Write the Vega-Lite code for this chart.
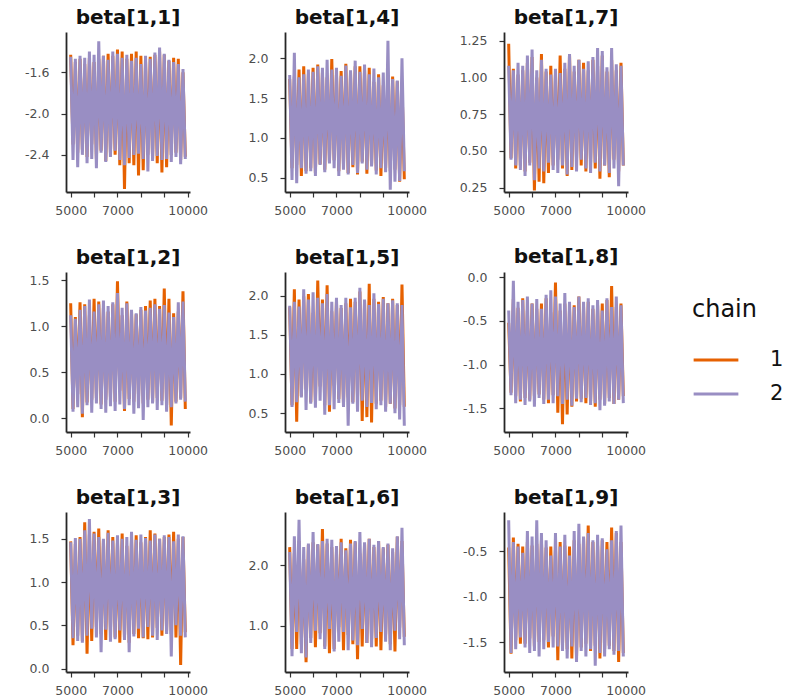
{
"$schema": "https://vega.github.io/schema/vega-lite/v6.json",
"background": "white",
"padding": {"left": 24, "top": 8, "right": 5, "bottom": 5},
"datasets": {
"b11": [
{"c":1,"x":5000,"y":-1.43},{"c":1,"x":5100,"y":-2.30},{"c":1,"x":5200,"y":-1.50},{"c":1,"x":5300,"y":-2.38},{"c":1,"x":5400,"y":-1.47},{"c":1,"x":5500,"y":-2.35},{"c":1,"x":5600,"y":-1.52},{"c":1,"x":5700,"y":-2.42},{"c":1,"x":5800,"y":-1.46},{"c":1,"x":5900,"y":-2.30},
{"c":1,"x":6000,"y":-1.50},{"c":1,"x":6100,"y":-2.44},{"c":1,"x":6200,"y":-1.47},{"c":1,"x":6300,"y":-2.36},{"c":1,"x":6400,"y":-1.44},{"c":1,"x":6500,"y":-2.46},{"c":1,"x":6600,"y":-1.42},{"c":1,"x":6700,"y":-2.38},{"c":1,"x":6800,"y":-1.44},{"c":1,"x":6900,"y":-2.40},
{"c":1,"x":7000,"y":-1.38},{"c":1,"x":7100,"y":-2.50},{"c":1,"x":7200,"y":-1.40},{"c":1,"x":7300,"y":-2.73},{"c":1,"x":7400,"y":-1.47},{"c":1,"x":7500,"y":-2.48},{"c":1,"x":7600,"y":-1.42},{"c":1,"x":7700,"y":-2.50},{"c":1,"x":7800,"y":-1.40},{"c":1,"x":7900,"y":-2.60},
{"c":1,"x":8000,"y":-1.44},{"c":1,"x":8100,"y":-2.55},{"c":1,"x":8200,"y":-1.50},{"c":1,"x":8300,"y":-2.40},{"c":1,"x":8400,"y":-1.45},{"c":1,"x":8500,"y":-2.44},{"c":1,"x":8600,"y":-1.43},{"c":1,"x":8700,"y":-2.48},{"c":1,"x":8800,"y":-1.40},{"c":1,"x":8900,"y":-2.57},
{"c":1,"x":9000,"y":-1.43},{"c":1,"x":9100,"y":-2.52},{"c":1,"x":9200,"y":-1.49},{"c":1,"x":9300,"y":-2.40},{"c":1,"x":9400,"y":-1.46},{"c":1,"x":9500,"y":-2.38},{"c":1,"x":9600,"y":-1.47},{"c":1,"x":9700,"y":-2.45},{"c":1,"x":9800,"y":-1.60},{"c":1,"x":9900,"y":-2.42},
{"c":2,"x":5000,"y":-1.45},{"c":2,"x":5100,"y":-2.45},{"c":2,"x":5200,"y":-1.47},{"c":2,"x":5300,"y":-2.52},{"c":2,"x":5400,"y":-1.44},{"c":2,"x":5500,"y":-2.40},{"c":2,"x":5600,"y":-1.46},{"c":2,"x":5700,"y":-2.48},{"c":2,"x":5800,"y":-1.40},{"c":2,"x":5900,"y":-2.44},
{"c":2,"x":6000,"y":-1.43},{"c":2,"x":6100,"y":-2.53},{"c":2,"x":6200,"y":-1.30},{"c":2,"x":6300,"y":-2.38},{"c":2,"x":6400,"y":-1.44},{"c":2,"x":6500,"y":-2.47},{"c":2,"x":6600,"y":-1.48},{"c":2,"x":6700,"y":-2.42},{"c":2,"x":6800,"y":-1.40},{"c":2,"x":6900,"y":-2.36},
{"c":2,"x":7000,"y":-1.42},{"c":2,"x":7100,"y":-2.45},{"c":2,"x":7200,"y":-1.46},{"c":2,"x":7300,"y":-2.50},{"c":2,"x":7400,"y":-1.43},{"c":2,"x":7500,"y":-2.43},{"c":2,"x":7600,"y":-1.49},{"c":2,"x":7700,"y":-2.40},{"c":2,"x":7800,"y":-1.46},{"c":2,"x":7900,"y":-2.39},
{"c":2,"x":8000,"y":-1.52},{"c":2,"x":8100,"y":-2.44},{"c":2,"x":8200,"y":-1.44},{"c":2,"x":8300,"y":-2.56},{"c":2,"x":8400,"y":-1.47},{"c":2,"x":8500,"y":-2.46},{"c":2,"x":8600,"y":-1.41},{"c":2,"x":8700,"y":-2.41},{"c":2,"x":8800,"y":-1.36},{"c":2,"x":8900,"y":-2.45},
{"c":2,"x":9000,"y":-1.42},{"c":2,"x":9100,"y":-2.44},{"c":2,"x":9200,"y":-1.48},{"c":2,"x":9300,"y":-2.47},{"c":2,"x":9400,"y":-1.50},{"c":2,"x":9500,"y":-2.42},{"c":2,"x":9600,"y":-1.52},{"c":2,"x":9700,"y":-2.49},{"c":2,"x":9800,"y":-1.57},{"c":2,"x":9900,"y":-2.44}
],
"b14": [
{"c":1,"x":5000,"y":1.74},{"c":1,"x":5100,"y":0.62},{"c":1,"x":5200,"y":1.77},{"c":1,"x":5300,"y":0.66},{"c":1,"x":5400,"y":1.86},{"c":1,"x":5500,"y":0.52},{"c":1,"x":5600,"y":1.90},{"c":1,"x":5700,"y":0.58},{"c":1,"x":5800,"y":1.80},{"c":1,"x":5900,"y":0.62},
{"c":1,"x":6000,"y":1.88},{"c":1,"x":6100,"y":0.56},{"c":1,"x":6200,"y":1.92},{"c":1,"x":6300,"y":0.67},{"c":1,"x":6400,"y":1.82},{"c":1,"x":6500,"y":0.60},{"c":1,"x":6600,"y":1.76},{"c":1,"x":6700,"y":0.70},{"c":1,"x":6800,"y":1.99},{"c":1,"x":6900,"y":0.72},
{"c":1,"x":7000,"y":1.80},{"c":1,"x":7100,"y":0.58},{"c":1,"x":7200,"y":1.84},{"c":1,"x":7300,"y":0.67},{"c":1,"x":7400,"y":1.93},{"c":1,"x":7500,"y":0.56},{"c":1,"x":7600,"y":1.82},{"c":1,"x":7700,"y":0.63},{"c":1,"x":7800,"y":1.90},{"c":1,"x":7900,"y":0.54},
{"c":1,"x":8000,"y":1.90},{"c":1,"x":8100,"y":0.70},{"c":1,"x":8200,"y":1.86},{"c":1,"x":8300,"y":0.55},{"c":1,"x":8400,"y":1.88},{"c":1,"x":8500,"y":0.66},{"c":1,"x":8600,"y":1.70},{"c":1,"x":8700,"y":0.59},{"c":1,"x":8800,"y":1.80},{"c":1,"x":8900,"y":0.52},
{"c":1,"x":9000,"y":1.66},{"c":1,"x":9100,"y":0.62},{"c":1,"x":9200,"y":1.72},{"c":1,"x":9300,"y":0.58},{"c":1,"x":9400,"y":1.77},{"c":1,"x":9500,"y":0.60},{"c":1,"x":9600,"y":1.71},{"c":1,"x":9700,"y":0.45},{"c":1,"x":9800,"y":1.68},{"c":1,"x":9900,"y":0.48},
{"c":2,"x":5000,"y":1.79},{"c":2,"x":5100,"y":0.47},{"c":2,"x":5200,"y":2.07},{"c":2,"x":5300,"y":0.43},{"c":2,"x":5400,"y":1.76},{"c":2,"x":5500,"y":0.62},{"c":2,"x":5600,"y":1.80},{"c":2,"x":5700,"y":0.55},{"c":2,"x":5800,"y":1.86},{"c":2,"x":5900,"y":0.58},
{"c":2,"x":6000,"y":1.83},{"c":2,"x":6100,"y":0.52},{"c":2,"x":6200,"y":1.90},{"c":2,"x":6300,"y":0.66},{"c":2,"x":6400,"y":1.88},{"c":2,"x":6500,"y":0.57},{"c":2,"x":6600,"y":1.98},{"c":2,"x":6700,"y":0.68},{"c":2,"x":6800,"y":1.86},{"c":2,"x":6900,"y":0.62},
{"c":2,"x":7000,"y":1.88},{"c":2,"x":7100,"y":0.52},{"c":2,"x":7200,"y":1.78},{"c":2,"x":7300,"y":0.60},{"c":2,"x":7400,"y":1.91},{"c":2,"x":7500,"y":0.54},{"c":2,"x":7600,"y":1.85},{"c":2,"x":7700,"y":0.66},{"c":2,"x":7800,"y":1.97},{"c":2,"x":7900,"y":0.56},
{"c":2,"x":8000,"y":1.83},{"c":2,"x":8100,"y":0.68},{"c":2,"x":8200,"y":1.92},{"c":2,"x":8300,"y":0.60},{"c":2,"x":8400,"y":1.80},{"c":2,"x":8500,"y":0.64},{"c":2,"x":8600,"y":1.87},{"c":2,"x":8700,"y":0.54},{"c":2,"x":8800,"y":1.76},{"c":2,"x":8900,"y":0.62},
{"c":2,"x":9000,"y":1.82},{"c":2,"x":9100,"y":0.57},{"c":2,"x":9200,"y":2.22},{"c":2,"x":9300,"y":0.35},{"c":2,"x":9400,"y":1.74},{"c":2,"x":9500,"y":0.45},{"c":2,"x":9600,"y":1.72},{"c":2,"x":9700,"y":0.46},{"c":2,"x":9800,"y":2.00},{"c":2,"x":9900,"y":0.58}
],
"b17": [
{"c":1,"x":5000,"y":1.23},{"c":1,"x":5100,"y":0.45},{"c":1,"x":5200,"y":1.06},{"c":1,"x":5300,"y":0.38},{"c":1,"x":5400,"y":1.02},{"c":1,"x":5500,"y":0.40},{"c":1,"x":5600,"y":1.05},{"c":1,"x":5700,"y":0.36},{"c":1,"x":5800,"y":1.10},{"c":1,"x":5900,"y":0.42},
{"c":1,"x":6000,"y":1.14},{"c":1,"x":6100,"y":0.23},{"c":1,"x":6200,"y":1.00},{"c":1,"x":6300,"y":0.29},{"c":1,"x":6400,"y":1.16},{"c":1,"x":6500,"y":0.28},{"c":1,"x":6600,"y":1.04},{"c":1,"x":6700,"y":0.35},{"c":1,"x":6800,"y":1.08},{"c":1,"x":6900,"y":0.40},
{"c":1,"x":7000,"y":1.02},{"c":1,"x":7100,"y":0.44},{"c":1,"x":7200,"y":1.15},{"c":1,"x":7300,"y":0.38},{"c":1,"x":7400,"y":1.06},{"c":1,"x":7500,"y":0.33},{"c":1,"x":7600,"y":1.16},{"c":1,"x":7700,"y":0.37},{"c":1,"x":7800,"y":1.04},{"c":1,"x":7900,"y":0.45},
{"c":1,"x":8000,"y":1.12},{"c":1,"x":8100,"y":0.40},{"c":1,"x":8200,"y":1.10},{"c":1,"x":8300,"y":0.36},{"c":1,"x":8400,"y":1.05},{"c":1,"x":8500,"y":0.42},{"c":1,"x":8600,"y":1.12},{"c":1,"x":8700,"y":0.38},{"c":1,"x":8800,"y":1.08},{"c":1,"x":8900,"y":0.31},
{"c":1,"x":9000,"y":1.15},{"c":1,"x":9100,"y":0.40},{"c":1,"x":9200,"y":1.04},{"c":1,"x":9300,"y":0.32},{"c":1,"x":9400,"y":1.12},{"c":1,"x":9500,"y":0.44},{"c":1,"x":9600,"y":1.05},{"c":1,"x":9700,"y":0.36},{"c":1,"x":9800,"y":1.10},{"c":1,"x":9900,"y":0.40},
{"c":2,"x":5000,"y":1.08},{"c":2,"x":5100,"y":0.44},{"c":2,"x":5200,"y":1.05},{"c":2,"x":5300,"y":0.40},{"c":2,"x":5400,"y":1.10},{"c":2,"x":5500,"y":0.37},{"c":2,"x":5600,"y":1.08},{"c":2,"x":5700,"y":0.33},{"c":2,"x":5800,"y":1.15},{"c":2,"x":5900,"y":0.40},
{"c":2,"x":6000,"y":1.19},{"c":2,"x":6100,"y":0.30},{"c":2,"x":6200,"y":1.05},{"c":2,"x":6300,"y":0.38},{"c":2,"x":6400,"y":1.12},{"c":2,"x":6500,"y":0.36},{"c":2,"x":6600,"y":1.06},{"c":2,"x":6700,"y":0.42},{"c":2,"x":6800,"y":1.02},{"c":2,"x":6900,"y":0.37},
{"c":2,"x":7000,"y":1.06},{"c":2,"x":7100,"y":0.35},{"c":2,"x":7200,"y":1.03},{"c":2,"x":7300,"y":0.40},{"c":2,"x":7400,"y":1.10},{"c":2,"x":7500,"y":0.34},{"c":2,"x":7600,"y":1.16},{"c":2,"x":7700,"y":0.39},{"c":2,"x":7800,"y":1.08},{"c":2,"x":7900,"y":0.36},
{"c":2,"x":8000,"y":1.12},{"c":2,"x":8100,"y":0.44},{"c":2,"x":8200,"y":1.06},{"c":2,"x":8300,"y":0.38},{"c":2,"x":8400,"y":1.11},{"c":2,"x":8500,"y":0.35},{"c":2,"x":8600,"y":1.14},{"c":2,"x":8700,"y":0.42},{"c":2,"x":8800,"y":1.20},{"c":2,"x":8900,"y":0.36},
{"c":2,"x":9000,"y":1.18},{"c":2,"x":9100,"y":0.40},{"c":2,"x":9200,"y":1.07},{"c":2,"x":9300,"y":0.35},{"c":2,"x":9400,"y":1.20},{"c":2,"x":9500,"y":0.38},{"c":2,"x":9600,"y":1.09},{"c":2,"x":9700,"y":0.26},{"c":2,"x":9800,"y":1.08},{"c":2,"x":9900,"y":0.40}
],
"b12": [
{"c":1,"x":5000,"y":1.25},{"c":1,"x":5100,"y":0.10},{"c":1,"x":5200,"y":1.10},{"c":1,"x":5300,"y":0.26},{"c":1,"x":5400,"y":1.26},{"c":1,"x":5500,"y":0.01},{"c":1,"x":5600,"y":1.24},{"c":1,"x":5700,"y":0.17},{"c":1,"x":5800,"y":1.12},{"c":1,"x":5900,"y":0.20},
{"c":1,"x":6000,"y":1.30},{"c":1,"x":6100,"y":0.22},{"c":1,"x":6200,"y":1.27},{"c":1,"x":6300,"y":0.15},{"c":1,"x":6400,"y":1.20},{"c":1,"x":6500,"y":0.20},{"c":1,"x":6600,"y":1.16},{"c":1,"x":6700,"y":0.23},{"c":1,"x":6800,"y":1.24},{"c":1,"x":6900,"y":0.18},
{"c":1,"x":7000,"y":1.49},{"c":1,"x":7100,"y":0.30},{"c":1,"x":7200,"y":1.12},{"c":1,"x":7300,"y":0.08},{"c":1,"x":7400,"y":1.27},{"c":1,"x":7500,"y":0.21},{"c":1,"x":7600,"y":1.16},{"c":1,"x":7700,"y":0.18},{"c":1,"x":7800,"y":1.13},{"c":1,"x":7900,"y":0.24},
{"c":1,"x":8000,"y":1.18},{"c":1,"x":8100,"y":0.16},{"c":1,"x":8200,"y":1.22},{"c":1,"x":8300,"y":0.20},{"c":1,"x":8400,"y":1.28},{"c":1,"x":8500,"y":0.17},{"c":1,"x":8600,"y":1.30},{"c":1,"x":8700,"y":0.22},{"c":1,"x":8800,"y":1.22},{"c":1,"x":8900,"y":0.19},
{"c":1,"x":9000,"y":1.41},{"c":1,"x":9100,"y":0.14},{"c":1,"x":9200,"y":1.30},{"c":1,"x":9300,"y":-0.08},{"c":1,"x":9400,"y":1.14},{"c":1,"x":9500,"y":0.18},{"c":1,"x":9600,"y":1.16},{"c":1,"x":9700,"y":0.22},{"c":1,"x":9800,"y":1.38},{"c":1,"x":9900,"y":0.10},
{"c":2,"x":5000,"y":1.12},{"c":2,"x":5100,"y":0.07},{"c":2,"x":5200,"y":1.08},{"c":2,"x":5300,"y":0.12},{"c":2,"x":5400,"y":1.18},{"c":2,"x":5500,"y":0.05},{"c":2,"x":5600,"y":1.22},{"c":2,"x":5700,"y":0.14},{"c":2,"x":5800,"y":1.29},{"c":2,"x":5900,"y":0.06},
{"c":2,"x":6000,"y":1.16},{"c":2,"x":6100,"y":0.16},{"c":2,"x":6200,"y":1.24},{"c":2,"x":6300,"y":0.10},{"c":2,"x":6400,"y":1.28},{"c":2,"x":6500,"y":0.06},{"c":2,"x":6600,"y":1.22},{"c":2,"x":6700,"y":0.13},{"c":2,"x":6800,"y":1.26},{"c":2,"x":6900,"y":0.08},
{"c":2,"x":7000,"y":1.36},{"c":2,"x":7100,"y":0.15},{"c":2,"x":7200,"y":1.20},{"c":2,"x":7300,"y":0.10},{"c":2,"x":7400,"y":1.25},{"c":2,"x":7500,"y":0.14},{"c":2,"x":7600,"y":1.18},{"c":2,"x":7700,"y":0.05},{"c":2,"x":7800,"y":1.14},{"c":2,"x":7900,"y":0.11},
{"c":2,"x":8000,"y":1.21},{"c":2,"x":8100,"y":-0.02},{"c":2,"x":8200,"y":1.17},{"c":2,"x":8300,"y":0.12},{"c":2,"x":8400,"y":1.20},{"c":2,"x":8500,"y":0.16},{"c":2,"x":8600,"y":1.24},{"c":2,"x":8700,"y":0.09},{"c":2,"x":8800,"y":1.19},{"c":2,"x":8900,"y":0.14},
{"c":2,"x":9000,"y":1.23},{"c":2,"x":9100,"y":0.07},{"c":2,"x":9200,"y":1.15},{"c":2,"x":9300,"y":0.12},{"c":2,"x":9400,"y":1.10},{"c":2,"x":9500,"y":0.16},{"c":2,"x":9600,"y":1.26},{"c":2,"x":9700,"y":0.20},{"c":2,"x":9800,"y":1.27},{"c":2,"x":9900,"y":0.18}
],
"b15": [
{"c":1,"x":5000,"y":1.85},{"c":1,"x":5100,"y":0.60},{"c":1,"x":5200,"y":2.08},{"c":1,"x":5300,"y":0.39},{"c":1,"x":5400,"y":1.95},{"c":1,"x":5500,"y":0.72},{"c":1,"x":5600,"y":1.99},{"c":1,"x":5700,"y":0.80},{"c":1,"x":5800,"y":2.02},{"c":1,"x":5900,"y":0.64},
{"c":1,"x":6000,"y":1.78},{"c":1,"x":6100,"y":0.66},{"c":1,"x":6200,"y":2.19},{"c":1,"x":6300,"y":0.84},{"c":1,"x":6400,"y":1.95},{"c":1,"x":6500,"y":0.60},{"c":1,"x":6600,"y":2.13},{"c":1,"x":6700,"y":0.52},{"c":1,"x":6800,"y":1.80},{"c":1,"x":6900,"y":0.85},
{"c":1,"x":7000,"y":1.92},{"c":1,"x":7100,"y":0.68},{"c":1,"x":7200,"y":1.84},{"c":1,"x":7300,"y":0.62},{"c":1,"x":7400,"y":1.90},{"c":1,"x":7500,"y":0.70},{"c":1,"x":7600,"y":1.96},{"c":1,"x":7700,"y":0.64},{"c":1,"x":7800,"y":1.92},{"c":1,"x":7900,"y":0.72},
{"c":1,"x":8000,"y":2.05},{"c":1,"x":8100,"y":0.40},{"c":1,"x":8200,"y":1.93},{"c":1,"x":8300,"y":0.45},{"c":1,"x":8400,"y":2.15},{"c":1,"x":8500,"y":0.38},{"c":1,"x":8600,"y":1.96},{"c":1,"x":8700,"y":0.62},{"c":1,"x":8800,"y":1.92},{"c":1,"x":8900,"y":0.66},
{"c":1,"x":9000,"y":1.98},{"c":1,"x":9100,"y":0.58},{"c":1,"x":9200,"y":1.90},{"c":1,"x":9300,"y":0.62},{"c":1,"x":9400,"y":1.96},{"c":1,"x":9500,"y":0.56},{"c":1,"x":9600,"y":1.88},{"c":1,"x":9700,"y":0.60},{"c":1,"x":9800,"y":2.14},{"c":1,"x":9900,"y":0.58},
{"c":2,"x":5000,"y":1.87},{"c":2,"x":5100,"y":0.58},{"c":2,"x":5200,"y":1.92},{"c":2,"x":5300,"y":0.64},{"c":2,"x":5400,"y":1.86},{"c":2,"x":5500,"y":0.70},{"c":2,"x":5600,"y":2.08},{"c":2,"x":5700,"y":0.54},{"c":2,"x":5800,"y":1.95},{"c":2,"x":5900,"y":0.62},
{"c":2,"x":6000,"y":2.04},{"c":2,"x":6100,"y":0.57},{"c":2,"x":6200,"y":1.97},{"c":2,"x":6300,"y":0.66},{"c":2,"x":6400,"y":1.90},{"c":2,"x":6500,"y":0.48},{"c":2,"x":6600,"y":2.02},{"c":2,"x":6700,"y":0.60},{"c":2,"x":6800,"y":1.92},{"c":2,"x":6900,"y":0.55},
{"c":2,"x":7000,"y":1.97},{"c":2,"x":7100,"y":0.63},{"c":2,"x":7200,"y":1.88},{"c":2,"x":7300,"y":0.58},{"c":2,"x":7400,"y":1.97},{"c":2,"x":7500,"y":0.34},{"c":2,"x":7600,"y":1.85},{"c":2,"x":7700,"y":0.62},{"c":2,"x":7800,"y":1.97},{"c":2,"x":7900,"y":0.52},
{"c":2,"x":8000,"y":2.10},{"c":2,"x":8100,"y":0.66},{"c":2,"x":8200,"y":1.95},{"c":2,"x":8300,"y":0.58},{"c":2,"x":8400,"y":1.88},{"c":2,"x":8500,"y":0.63},{"c":2,"x":8600,"y":2.03},{"c":2,"x":8700,"y":0.55},{"c":2,"x":8800,"y":1.89},{"c":2,"x":8900,"y":0.60},
{"c":2,"x":9000,"y":1.96},{"c":2,"x":9100,"y":0.52},{"c":2,"x":9200,"y":1.90},{"c":2,"x":9300,"y":0.62},{"c":2,"x":9400,"y":1.94},{"c":2,"x":9500,"y":0.50},{"c":2,"x":9600,"y":1.90},{"c":2,"x":9700,"y":0.42},{"c":2,"x":9800,"y":1.88},{"c":2,"x":9900,"y":0.34}
],
"b18": [
{"c":1,"x":5000,"y":-0.52},{"c":1,"x":5100,"y":-1.32},{"c":1,"x":5200,"y":-0.25},{"c":1,"x":5300,"y":-1.36},{"c":1,"x":5400,"y":-0.35},{"c":1,"x":5500,"y":-1.42},{"c":1,"x":5600,"y":-0.24},{"c":1,"x":5700,"y":-1.38},{"c":1,"x":5800,"y":-0.38},{"c":1,"x":5900,"y":-1.40},
{"c":1,"x":6000,"y":-0.30},{"c":1,"x":6100,"y":-1.36},{"c":1,"x":6200,"y":-0.36},{"c":1,"x":6300,"y":-1.34},{"c":1,"x":6400,"y":-0.30},{"c":1,"x":6500,"y":-1.40},{"c":1,"x":6600,"y":-0.24},{"c":1,"x":6700,"y":-1.44},{"c":1,"x":6800,"y":-0.40},{"c":1,"x":6900,"y":-1.35},
{"c":1,"x":7000,"y":-0.06},{"c":1,"x":7100,"y":-1.55},{"c":1,"x":7200,"y":-0.38},{"c":1,"x":7300,"y":-1.68},{"c":1,"x":7400,"y":-0.30},{"c":1,"x":7500,"y":-1.57},{"c":1,"x":7600,"y":-0.36},{"c":1,"x":7700,"y":-1.48},{"c":1,"x":7800,"y":-0.32},{"c":1,"x":7900,"y":-1.42},
{"c":1,"x":8000,"y":-0.22},{"c":1,"x":8100,"y":-1.39},{"c":1,"x":8200,"y":-0.34},{"c":1,"x":8300,"y":-1.44},{"c":1,"x":8400,"y":-0.28},{"c":1,"x":8500,"y":-1.42},{"c":1,"x":8600,"y":-0.36},{"c":1,"x":8700,"y":-1.48},{"c":1,"x":8800,"y":-0.32},{"c":1,"x":8900,"y":-1.40},
{"c":1,"x":9000,"y":-0.30},{"c":1,"x":9100,"y":-1.45},{"c":1,"x":9200,"y":-0.26},{"c":1,"x":9300,"y":-1.38},{"c":1,"x":9400,"y":-0.10},{"c":1,"x":9500,"y":-1.45},{"c":1,"x":9600,"y":-0.34},{"c":1,"x":9700,"y":-1.40},{"c":1,"x":9800,"y":-0.30},{"c":1,"x":9900,"y":-1.36},
{"c":2,"x":5000,"y":-0.38},{"c":2,"x":5100,"y":-1.35},{"c":2,"x":5200,"y":-0.04},{"c":2,"x":5300,"y":-1.44},{"c":2,"x":5400,"y":-0.28},{"c":2,"x":5500,"y":-1.40},{"c":2,"x":5600,"y":-0.26},{"c":2,"x":5700,"y":-1.46},{"c":2,"x":5800,"y":-0.22},{"c":2,"x":5900,"y":-1.42},
{"c":2,"x":6000,"y":-0.30},{"c":2,"x":6100,"y":-1.48},{"c":2,"x":6200,"y":-0.25},{"c":2,"x":6300,"y":-1.38},{"c":2,"x":6400,"y":-0.36},{"c":2,"x":6500,"y":-1.45},{"c":2,"x":6600,"y":-0.20},{"c":2,"x":6700,"y":-1.40},{"c":2,"x":6800,"y":-0.15},{"c":2,"x":6900,"y":-1.44},
{"c":2,"x":7000,"y":-0.22},{"c":2,"x":7100,"y":-1.36},{"c":2,"x":7200,"y":-0.30},{"c":2,"x":7300,"y":-1.45},{"c":2,"x":7400,"y":-0.18},{"c":2,"x":7500,"y":-1.40},{"c":2,"x":7600,"y":-0.28},{"c":2,"x":7700,"y":-1.47},{"c":2,"x":7800,"y":-0.34},{"c":2,"x":7900,"y":-1.39},
{"c":2,"x":8000,"y":-0.22},{"c":2,"x":8100,"y":-1.43},{"c":2,"x":8200,"y":-0.28},{"c":2,"x":8300,"y":-1.38},{"c":2,"x":8400,"y":-0.24},{"c":2,"x":8500,"y":-1.46},{"c":2,"x":8600,"y":-0.32},{"c":2,"x":8700,"y":-1.44},{"c":2,"x":8800,"y":-0.26},{"c":2,"x":8900,"y":-1.52},
{"c":2,"x":9000,"y":-0.38},{"c":2,"x":9100,"y":-1.47},{"c":2,"x":9200,"y":-0.24},{"c":2,"x":9300,"y":-1.42},{"c":2,"x":9400,"y":-0.34},{"c":2,"x":9500,"y":-1.45},{"c":2,"x":9600,"y":-0.22},{"c":2,"x":9700,"y":-1.40},{"c":2,"x":9800,"y":-0.32},{"c":2,"x":9900,"y":-1.44}
],
"b13": [
{"c":1,"x":5000,"y":1.47},{"c":1,"x":5100,"y":0.27},{"c":1,"x":5200,"y":1.44},{"c":1,"x":5300,"y":0.38},{"c":1,"x":5400,"y":1.52},{"c":1,"x":5500,"y":0.32},{"c":1,"x":5600,"y":1.69},{"c":1,"x":5700,"y":0.17},{"c":1,"x":5800,"y":1.55},{"c":1,"x":5900,"y":0.32},
{"c":1,"x":6000,"y":1.58},{"c":1,"x":6100,"y":0.48},{"c":1,"x":6200,"y":1.62},{"c":1,"x":6300,"y":0.40},{"c":1,"x":6400,"y":1.48},{"c":1,"x":6500,"y":0.33},{"c":1,"x":6600,"y":1.60},{"c":1,"x":6700,"y":0.44},{"c":1,"x":6800,"y":1.52},{"c":1,"x":6900,"y":0.36},
{"c":1,"x":7000,"y":1.46},{"c":1,"x":7100,"y":0.30},{"c":1,"x":7200,"y":1.56},{"c":1,"x":7300,"y":0.36},{"c":1,"x":7400,"y":1.42},{"c":1,"x":7500,"y":0.30},{"c":1,"x":7600,"y":1.50},{"c":1,"x":7700,"y":0.40},{"c":1,"x":7800,"y":1.54},{"c":1,"x":7900,"y":0.35},
{"c":1,"x":8000,"y":1.46},{"c":1,"x":8100,"y":0.35},{"c":1,"x":8200,"y":1.52},{"c":1,"x":8300,"y":0.34},{"c":1,"x":8400,"y":1.60},{"c":1,"x":8500,"y":0.36},{"c":1,"x":8600,"y":1.56},{"c":1,"x":8700,"y":0.47},{"c":1,"x":8800,"y":1.50},{"c":1,"x":8900,"y":0.38},
{"c":1,"x":9000,"y":1.52},{"c":1,"x":9100,"y":0.44},{"c":1,"x":9200,"y":1.55},{"c":1,"x":9300,"y":0.40},{"c":1,"x":9400,"y":1.58},{"c":1,"x":9500,"y":0.36},{"c":1,"x":9600,"y":1.50},{"c":1,"x":9700,"y":0.04},{"c":1,"x":9800,"y":1.52},{"c":1,"x":9900,"y":0.42},
{"c":2,"x":5000,"y":1.46},{"c":2,"x":5100,"y":0.35},{"c":2,"x":5200,"y":1.51},{"c":2,"x":5300,"y":0.32},{"c":2,"x":5400,"y":1.50},{"c":2,"x":5500,"y":0.30},{"c":2,"x":5600,"y":1.60},{"c":2,"x":5700,"y":0.38},{"c":2,"x":5800,"y":1.73},{"c":2,"x":5900,"y":0.46},
{"c":2,"x":6000,"y":1.56},{"c":2,"x":6100,"y":0.36},{"c":2,"x":6200,"y":1.52},{"c":2,"x":6300,"y":0.19},{"c":2,"x":6400,"y":1.50},{"c":2,"x":6500,"y":0.45},{"c":2,"x":6600,"y":1.57},{"c":2,"x":6700,"y":0.31},{"c":2,"x":6800,"y":1.48},{"c":2,"x":6900,"y":0.34},
{"c":2,"x":7000,"y":1.54},{"c":2,"x":7100,"y":0.44},{"c":2,"x":7200,"y":1.50},{"c":2,"x":7300,"y":0.33},{"c":2,"x":7400,"y":1.52},{"c":2,"x":7500,"y":0.19},{"c":2,"x":7600,"y":1.58},{"c":2,"x":7700,"y":0.37},{"c":2,"x":7800,"y":1.49},{"c":2,"x":7900,"y":0.46},
{"c":2,"x":8000,"y":1.55},{"c":2,"x":8100,"y":0.36},{"c":2,"x":8200,"y":1.51},{"c":2,"x":8300,"y":0.48},{"c":2,"x":8400,"y":1.48},{"c":2,"x":8500,"y":0.38},{"c":2,"x":8600,"y":1.55},{"c":2,"x":8700,"y":0.33},{"c":2,"x":8800,"y":1.50},{"c":2,"x":8900,"y":0.44},
{"c":2,"x":9000,"y":1.54},{"c":2,"x":9100,"y":0.40},{"c":2,"x":9200,"y":1.52},{"c":2,"x":9300,"y":0.14},{"c":2,"x":9400,"y":1.47},{"c":2,"x":9500,"y":0.50},{"c":2,"x":9600,"y":1.55},{"c":2,"x":9700,"y":0.38},{"c":2,"x":9800,"y":1.53},{"c":2,"x":9900,"y":0.36}
],
"b16": [
{"c":1,"x":5000,"y":2.30},{"c":1,"x":5100,"y":0.62},{"c":1,"x":5200,"y":2.20},{"c":1,"x":5300,"y":0.62},{"c":1,"x":5400,"y":2.40},{"c":1,"x":5500,"y":0.70},{"c":1,"x":5600,"y":2.10},{"c":1,"x":5700,"y":0.40},{"c":1,"x":5800,"y":2.34},{"c":1,"x":5900,"y":0.80},
{"c":1,"x":6000,"y":2.38},{"c":1,"x":6100,"y":0.65},{"c":1,"x":6200,"y":2.34},{"c":1,"x":6300,"y":0.88},{"c":1,"x":6400,"y":2.60},{"c":1,"x":6500,"y":0.66},{"c":1,"x":6600,"y":2.36},{"c":1,"x":6700,"y":0.55},{"c":1,"x":6800,"y":2.30},{"c":1,"x":6900,"y":0.62},
{"c":1,"x":7000,"y":2.22},{"c":1,"x":7100,"y":0.98},{"c":1,"x":7200,"y":2.44},{"c":1,"x":7300,"y":0.60},{"c":1,"x":7400,"y":2.28},{"c":1,"x":7500,"y":0.85},{"c":1,"x":7600,"y":2.42},{"c":1,"x":7700,"y":0.70},{"c":1,"x":7800,"y":2.38},{"c":1,"x":7900,"y":0.45},
{"c":1,"x":8000,"y":2.20},{"c":1,"x":8100,"y":0.66},{"c":1,"x":8200,"y":2.36},{"c":1,"x":8300,"y":0.72},{"c":1,"x":8400,"y":2.44},{"c":1,"x":8500,"y":0.78},{"c":1,"x":8600,"y":2.30},{"c":1,"x":8700,"y":0.66},{"c":1,"x":8800,"y":2.40},{"c":1,"x":8900,"y":0.60},
{"c":1,"x":9000,"y":2.28},{"c":1,"x":9100,"y":0.86},{"c":1,"x":9200,"y":2.34},{"c":1,"x":9300,"y":0.70},{"c":1,"x":9400,"y":2.22},{"c":1,"x":9500,"y":0.58},{"c":1,"x":9600,"y":2.47},{"c":1,"x":9700,"y":0.97},{"c":1,"x":9800,"y":2.40},{"c":1,"x":9900,"y":0.82},
{"c":2,"x":5000,"y":2.22},{"c":2,"x":5100,"y":0.50},{"c":2,"x":5200,"y":2.48},{"c":2,"x":5300,"y":0.90},{"c":2,"x":5400,"y":2.75},{"c":2,"x":5500,"y":0.55},{"c":2,"x":5600,"y":2.30},{"c":2,"x":5700,"y":0.48},{"c":2,"x":5800,"y":2.36},{"c":2,"x":5900,"y":0.72},
{"c":2,"x":6000,"y":2.55},{"c":2,"x":6100,"y":0.92},{"c":2,"x":6200,"y":2.35},{"c":2,"x":6300,"y":0.78},{"c":2,"x":6400,"y":2.40},{"c":2,"x":6500,"y":0.62},{"c":2,"x":6600,"y":2.44},{"c":2,"x":6700,"y":0.95},{"c":2,"x":6800,"y":2.42},{"c":2,"x":6900,"y":0.58},
{"c":2,"x":7000,"y":2.32},{"c":2,"x":7100,"y":0.74},{"c":2,"x":7200,"y":2.38},{"c":2,"x":7300,"y":0.90},{"c":2,"x":7400,"y":2.25},{"c":2,"x":7500,"y":0.60},{"c":2,"x":7600,"y":2.36},{"c":2,"x":7700,"y":0.76},{"c":2,"x":7800,"y":2.40},{"c":2,"x":7900,"y":0.68},
{"c":2,"x":8000,"y":2.55},{"c":2,"x":8100,"y":0.95},{"c":2,"x":8200,"y":2.38},{"c":2,"x":8300,"y":0.72},{"c":2,"x":8400,"y":2.44},{"c":2,"x":8500,"y":0.65},{"c":2,"x":8600,"y":2.34},{"c":2,"x":8700,"y":0.80},{"c":2,"x":8800,"y":2.40},{"c":2,"x":8900,"y":0.90},
{"c":2,"x":9000,"y":2.30},{"c":2,"x":9100,"y":0.74},{"c":2,"x":9200,"y":2.36},{"c":2,"x":9300,"y":0.60},{"c":2,"x":9400,"y":2.28},{"c":2,"x":9500,"y":0.92},{"c":2,"x":9600,"y":2.48},{"c":2,"x":9700,"y":0.78},{"c":2,"x":9800,"y":2.62},{"c":2,"x":9900,"y":0.68}
],
"b19": [
{"c":1,"x":5000,"y":-0.46},{"c":1,"x":5100,"y":-1.63},{"c":1,"x":5200,"y":-0.35},{"c":1,"x":5300,"y":-1.48},{"c":1,"x":5400,"y":-0.42},{"c":1,"x":5500,"y":-1.52},{"c":1,"x":5600,"y":-0.45},{"c":1,"x":5700,"y":-1.52},{"c":1,"x":5800,"y":-0.40},{"c":1,"x":5900,"y":-1.46},
{"c":1,"x":6000,"y":-0.44},{"c":1,"x":6100,"y":-1.55},{"c":1,"x":6200,"y":-0.42},{"c":1,"x":6300,"y":-1.50},{"c":1,"x":6400,"y":-0.38},{"c":1,"x":6500,"y":-1.48},{"c":1,"x":6600,"y":-0.46},{"c":1,"x":6700,"y":-1.56},{"c":1,"x":6800,"y":-0.45},{"c":1,"x":6900,"y":-1.44},
{"c":1,"x":7000,"y":-0.48},{"c":1,"x":7100,"y":-1.70},{"c":1,"x":7200,"y":-0.40},{"c":1,"x":7300,"y":-1.54},{"c":1,"x":7400,"y":-0.44},{"c":1,"x":7500,"y":-1.58},{"c":1,"x":7600,"y":-0.45},{"c":1,"x":7700,"y":-1.68},{"c":1,"x":7800,"y":-0.38},{"c":1,"x":7900,"y":-1.66},
{"c":1,"x":8000,"y":-0.42},{"c":1,"x":8100,"y":-1.56},{"c":1,"x":8200,"y":-0.36},{"c":1,"x":8300,"y":-1.52},{"c":1,"x":8400,"y":-0.22},{"c":1,"x":8500,"y":-1.60},{"c":1,"x":8600,"y":-0.40},{"c":1,"x":8700,"y":-1.54},{"c":1,"x":8800,"y":-0.44},{"c":1,"x":8900,"y":-1.68},
{"c":1,"x":9000,"y":-0.38},{"c":1,"x":9100,"y":-1.58},{"c":1,"x":9200,"y":-0.40},{"c":1,"x":9300,"y":-1.54},{"c":1,"x":9400,"y":-0.24},{"c":1,"x":9500,"y":-1.60},{"c":1,"x":9600,"y":-0.30},{"c":1,"x":9700,"y":-1.72},{"c":1,"x":9800,"y":-0.40},{"c":1,"x":9900,"y":-1.62},
{"c":2,"x":5000,"y":-0.16},{"c":2,"x":5100,"y":-1.62},{"c":2,"x":5200,"y":-0.40},{"c":2,"x":5300,"y":-1.58},{"c":2,"x":5400,"y":-0.45},{"c":2,"x":5500,"y":-1.45},{"c":2,"x":5600,"y":-0.52},{"c":2,"x":5700,"y":-1.56},{"c":2,"x":5800,"y":-0.28},{"c":2,"x":5900,"y":-1.62},
{"c":2,"x":6000,"y":-0.34},{"c":2,"x":6100,"y":-1.60},{"c":2,"x":6200,"y":-0.16},{"c":2,"x":6300,"y":-1.66},{"c":2,"x":6400,"y":-0.30},{"c":2,"x":6500,"y":-1.58},{"c":2,"x":6600,"y":-0.38},{"c":2,"x":6700,"y":-1.50},{"c":2,"x":6800,"y":-0.55},{"c":2,"x":6900,"y":-1.56},
{"c":2,"x":7000,"y":-0.30},{"c":2,"x":7100,"y":-1.55},{"c":2,"x":7200,"y":-0.45},{"c":2,"x":7300,"y":-1.60},{"c":2,"x":7400,"y":-0.32},{"c":2,"x":7500,"y":-1.68},{"c":2,"x":7600,"y":-0.55},{"c":2,"x":7700,"y":-1.55},{"c":2,"x":7800,"y":-0.28},{"c":2,"x":7900,"y":-1.72},
{"c":2,"x":8000,"y":-0.20},{"c":2,"x":8100,"y":-1.60},{"c":2,"x":8200,"y":-0.34},{"c":2,"x":8300,"y":-1.66},{"c":2,"x":8400,"y":-0.30},{"c":2,"x":8500,"y":-1.58},{"c":2,"x":8600,"y":-0.38},{"c":2,"x":8700,"y":-1.76},{"c":2,"x":8800,"y":-0.32},{"c":2,"x":8900,"y":-1.62},
{"c":2,"x":9000,"y":-0.36},{"c":2,"x":9100,"y":-1.66},{"c":2,"x":9200,"y":-0.48},{"c":2,"x":9300,"y":-1.58},{"c":2,"x":9400,"y":-0.38},{"c":2,"x":9500,"y":-1.64},{"c":2,"x":9600,"y":-0.28},{"c":2,"x":9700,"y":-1.60},{"c":2,"x":9800,"y":-0.22},{"c":2,"x":9900,"y":-1.66}
]
},
"config": {
"view": {"stroke": null},
"font": "DejaVu Sans",
"axis": {"grid": false, "domainColor": "#262626", "domainWidth": 1.8, "tickColor": "#333333", "tickWidth": 1.2, "tickSize": 5, "labelColor": "#4d4d4d", "labelFontSize": 12.5, "labelFont": "DejaVu Sans"},
"axisX": {"labelPadding": 7, "labelFlush": false, "labelOverlap": false},
"axisY": {"labelPadding": 12},
"title": {"font": "DejaVu Sans", "fontSize": 20, "fontWeight": "bold", "color": "#111111", "anchor": "middle", "offset": 4},
"line": {"strokeWidth": 3, "strokeJoin": "bevel"}
},
"columns": 3,
"spacing": {"row": 80, "column": 95},
"bounds": "flush",
"resolve": {"scale": {"x": "independent", "y": "independent", "color": "shared"}},
"concat": [
{"data": {"name": "b11"}, "title": "beta[1,1]", "width": 124, "height": 160, "mark": "line",
 "encoding": {
  "x": {"field": "x", "type": "quantitative", "scale": {"domain": [4800, 10100]}, "axis": {"title": null, "values": [5000,6000,7000,8000,9000,10000], "format": "d", "labelExpr": "datum.value == 5000 || datum.value == 7000 || datum.value == 10000 ? datum.label : ''"}},
  "y": {"field": "y", "type": "quantitative", "scale": {"domain": [-2.76, -1.21], "nice": false, "zero": false}, "axis": {"title": null, "values": [-2.4, -2.0, -1.6], "format": ".1f", "labelExpr": "replace(datum.label, '\u2212', '-')"}},
  "color": {"field": "c", "type": "nominal", "title": "chain", "scale": {"domain": [1, 2], "range": ["#e66101", "#998ec3"]}, "legend": {"orient": "none", "legendX": 626, "legendY": 266, "symbolType": "stroke", "symbolSize": 2000, "symbolStrokeWidth": 1.5, "titleFontSize": 24, "titleFontWeight": "normal", "titleColor": "#111111", "labelFontSize": 21, "labelColor": "#111111", "labelOffset": 30, "rowPadding": -8, "titlePadding": 14}}
 }},
{"data": {"name": "b14"}, "title": "beta[1,4]", "width": 124, "height": 160, "mark": "line",
 "encoding": {
  "x": {"field": "x", "type": "quantitative", "scale": {"domain": [4800, 10100]}, "axis": {"title": null, "values": [5000,6000,7000,8000,9000,10000], "format": "d", "labelExpr": "datum.value == 5000 || datum.value == 7000 || datum.value == 10000 ? datum.label : ''"}},
  "y": {"field": "y", "type": "quantitative", "scale": {"domain": [0.32, 2.33], "nice": false, "zero": false}, "axis": {"title": null, "values": [0.5, 1.0, 1.5, 2.0], "format": ".1f"}},
  "color": {"field": "c", "type": "nominal", "title": "chain", "scale": {"domain": [1, 2], "range": ["#e66101", "#998ec3"]}}
 }},
{"data": {"name": "b17"}, "title": "beta[1,7]", "width": 124, "height": 160, "mark": "line",
 "encoding": {
  "x": {"field": "x", "type": "quantitative", "scale": {"domain": [4800, 10100]}, "axis": {"title": null, "values": [5000,6000,7000,8000,9000,10000], "format": "d", "labelExpr": "datum.value == 5000 || datum.value == 7000 || datum.value == 10000 ? datum.label : ''"}},
  "y": {"field": "y", "type": "quantitative", "scale": {"domain": [0.22, 1.31], "nice": false, "zero": false}, "axis": {"title": null, "values": [0.25, 0.5, 0.75, 1.0, 1.25], "format": ".2f"}},
  "color": {"field": "c", "type": "nominal", "title": "chain", "scale": {"domain": [1, 2], "range": ["#e66101", "#998ec3"]}}
 }},
{"data": {"name": "b12"}, "title": "beta[1,2]", "width": 124, "height": 160, "mark": "line",
 "encoding": {
  "x": {"field": "x", "type": "quantitative", "scale": {"domain": [4800, 10100]}, "axis": {"title": null, "values": [5000,6000,7000,8000,9000,10000], "format": "d", "labelExpr": "datum.value == 5000 || datum.value == 7000 || datum.value == 10000 ? datum.label : ''"}},
  "y": {"field": "y", "type": "quantitative", "scale": {"domain": [-0.15, 1.59], "nice": false, "zero": false}, "axis": {"title": null, "values": [0, 0.5, 1.0, 1.5], "format": ".1f"}},
  "color": {"field": "c", "type": "nominal", "title": "chain", "scale": {"domain": [1, 2], "range": ["#e66101", "#998ec3"]}}
 }},
{"data": {"name": "b15"}, "title": "beta[1,5]", "width": 124, "height": 160, "mark": "line",
 "encoding": {
  "x": {"field": "x", "type": "quantitative", "scale": {"domain": [4800, 10100]}, "axis": {"title": null, "values": [5000,6000,7000,8000,9000,10000], "format": "d", "labelExpr": "datum.value == 5000 || datum.value == 7000 || datum.value == 10000 ? datum.label : ''"}},
  "y": {"field": "y", "type": "quantitative", "scale": {"domain": [0.26, 2.30], "nice": false, "zero": false}, "axis": {"title": null, "values": [0.5, 1.0, 1.5, 2.0], "format": ".1f"}},
  "color": {"field": "c", "type": "nominal", "title": "chain", "scale": {"domain": [1, 2], "range": ["#e66101", "#998ec3"]}}
 }},
{"data": {"name": "b18"}, "title": "beta[1,8]", "width": 124, "height": 160, "mark": "line",
 "encoding": {
  "x": {"field": "x", "type": "quantitative", "scale": {"domain": [4800, 10100]}, "axis": {"title": null, "values": [5000,6000,7000,8000,9000,10000], "format": "d", "labelExpr": "datum.value == 5000 || datum.value == 7000 || datum.value == 10000 ? datum.label : ''"}},
  "y": {"field": "y", "type": "quantitative", "scale": {"domain": [-1.77, 0.06], "nice": false, "zero": false}, "axis": {"title": null, "values": [-1.5, -1.0, -0.5, 0], "format": ".1f", "labelExpr": "replace(datum.label, '\u2212', '-')"}},
  "color": {"field": "c", "type": "nominal", "title": "chain", "scale": {"domain": [1, 2], "range": ["#e66101", "#998ec3"]}}
 }},
{"data": {"name": "b13"}, "title": "beta[1,3]", "width": 124, "height": 160, "mark": "line",
 "encoding": {
  "x": {"field": "x", "type": "quantitative", "scale": {"domain": [4800, 10100]}, "axis": {"title": null, "values": [5000,6000,7000,8000,9000,10000], "format": "d", "labelExpr": "datum.value == 5000 || datum.value == 7000 || datum.value == 10000 ? datum.label : ''"}},
  "y": {"field": "y", "type": "quantitative", "scale": {"domain": [-0.04, 1.81], "nice": false, "zero": false}, "axis": {"title": null, "values": [0, 0.5, 1.0, 1.5], "format": ".1f"}},
  "color": {"field": "c", "type": "nominal", "title": "chain", "scale": {"domain": [1, 2], "range": ["#e66101", "#998ec3"]}}
 }},
{"data": {"name": "b16"}, "title": "beta[1,6]", "width": 124, "height": 160, "mark": "line",
 "encoding": {
  "x": {"field": "x", "type": "quantitative", "scale": {"domain": [4800, 10100]}, "axis": {"title": null, "values": [5000,6000,7000,8000,9000,10000], "format": "d", "labelExpr": "datum.value == 5000 || datum.value == 7000 || datum.value == 10000 ? datum.label : ''"}},
  "y": {"field": "y", "type": "quantitative", "scale": {"domain": [0.24, 2.88], "nice": false, "zero": false}, "axis": {"title": null, "values": [1.0, 2.0], "format": ".1f"}},
  "color": {"field": "c", "type": "nominal", "title": "chain", "scale": {"domain": [1, 2], "range": ["#e66101", "#998ec3"]}}
 }},
{"data": {"name": "b19"}, "title": "beta[1,9]", "width": 124, "height": 160, "mark": "line",
 "encoding": {
  "x": {"field": "x", "type": "quantitative", "scale": {"domain": [4800, 10100]}, "axis": {"title": null, "values": [5000,6000,7000,8000,9000,10000], "format": "d", "labelExpr": "datum.value == 5000 || datum.value == 7000 || datum.value == 10000 ? datum.label : ''"}},
  "y": {"field": "y", "type": "quantitative", "scale": {"domain": [-1.83, -0.07], "nice": false, "zero": false}, "axis": {"title": null, "values": [-1.5, -1.0, -0.5], "format": ".1f", "labelExpr": "replace(datum.label, '\u2212', '-')"}},
  "color": {"field": "c", "type": "nominal", "title": "chain", "scale": {"domain": [1, 2], "range": ["#e66101", "#998ec3"]}}
 }}
]
}
